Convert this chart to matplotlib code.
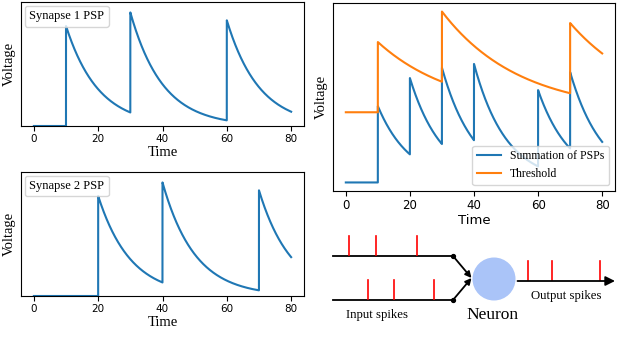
import numpy as np
import matplotlib
matplotlib.use("Agg")
import matplotlib.pyplot as plt
from matplotlib.patches import Circle

# ---------------- data ----------------
syn1_spikes = [10, 30, 60]          # input spike times, synapse 1
syn2_spikes = [20, 40, 70]          # input spike times, synapse 2
out_spikes = [10, 30, 70]           # output spike times (threshold jumps)
psp_amp = 1.0                        # PSP jump height
psp_tau = 10.0                       # PSP decay constant
thr_base = 0.92                      # resting threshold
thr_jump = 0.92                      # threshold increment per output spike
thr_tau = 24.0                       # threshold decay constant
t_end = 80
xticks = [0, 20, 40, 60, 80]
labels_syn = ["Synapse 1 PSP", "Synapse 2 PSP"]
legend_right = ["Summation of PSPs", "Threshold"]

t = np.linspace(0, t_end, 8001)

def psp_trace(spikes):
    v = np.zeros_like(t)
    for s in spikes:
        m = t >= s
        v[m] += psp_amp * np.exp(-(t[m] - s) / psp_tau)
    return v

def thr_trace(spikes):
    v = np.full_like(t, thr_base)
    for s in spikes:
        m = t >= s
        v[m] += thr_jump * np.exp(-(t[m] - s) / thr_tau)
    return v

v1 = psp_trace(syn1_spikes)
v2 = psp_trace(syn2_spikes)
vsum = v1 + v2
thr = thr_trace(out_spikes)

# ---------------- figure ----------------
W, H = 618, 358
fig = plt.figure(figsize=(W / 100, H / 100), dpi=100)
SERIF = ["Liberation Serif", "DejaVu Serif"]
SANS = ["DejaVu Sans"]
blue = "#1f77b4"
orange = "#ff7f0e"

def rect(l, r, top, bot):
    return [l / W, (H - bot) / H, (r - l) / W, (bot - top) / H]

def psp_panel(r, v, label):
    ax = fig.add_axes(r)
    ln, = ax.plot(t, v, color=blue, lw=1.5, label=label)
    ax.set_xlim(-4, 84)
    ax.set_ylim(0, 1.24)
    ax.set_xticks(xticks)
    ax.set_yticks([])
    ax.tick_params(axis="x", labelsize=7.5, length=3.5, pad=2.5)
    for lab in ax.get_xticklabels():
        lab.set_family(SANS)
    ax.set_xlabel("Time", family=SERIF, fontsize=10.5, labelpad=1)
    ax.set_ylabel("Voltage", family=SERIF, fontsize=10.5, labelpad=4)
    leg = ax.legend(loc="upper left", handlelength=0, handletextpad=0,
                    prop={"family": SERIF, "size": 9}, borderaxespad=0.3,
                    borderpad=0.35, fancybox=True)
    for h in leg.legend_handles:
        h.set_visible(False)
    return ax

psp_panel(rect(21, 304, 2, 126), v1, labels_syn[0])
psp_panel(rect(21, 304, 172, 296), v2, labels_syn[1])

# right panel
ax3 = fig.add_axes(rect(333, 615, 3, 191))
ax3.plot(t, vsum, color=blue, lw=1.5, label=legend_right[0])
ax3.plot(t, thr, color=orange, lw=1.5, label=legend_right[1])
ax3.set_xticks(xticks)
ax3.set_yticks([])
ax3.tick_params(axis="x", labelsize=8.5, length=3.5, pad=2.5)
ax3.set_xlabel("Time", family=SANS, fontsize=9.5, labelpad=1)
ax3.set_ylabel("Voltage", family=SERIF, fontsize=10.5, labelpad=4)
ax3.legend(loc="lower right", prop={"family": SERIF, "size": 8.5})

# ---------------- schematic ----------------
axd = fig.add_axes([0, 0, 1, 1])
axd.set_xlim(0, W)
axd.set_ylim(H, 0)
axd.axis("off")

# input lines
y_in1, y_in2 = 256, 300
x_start, x_end = 333, 453
cx, cy, rad = 494, 279, 21.5
for y in (y_in1, y_in2):
    axd.plot([x_start, x_end], [y, y], color="black", lw=1.3)
    axd.plot([x_end], [y], "o", color="black", ms=2.8)
    axd.annotate("", xy=(cx - rad - 1, cy - 1), xytext=(x_end, y),
                 arrowprops=dict(arrowstyle="-|>", color="black", lw=1.3,
                                 mutation_scale=9, shrinkA=0, shrinkB=0))
axd.add_patch(Circle((cx, cy), rad, color="#aac4f8", lw=0))

# output arrow
y_out = 281
axd.annotate("", xy=(615, y_out), xytext=(cx + rad + 2, y_out),
             arrowprops=dict(arrowstyle="-|>", color="black", lw=1.3,
                             mutation_scale=14, shrinkA=0, shrinkB=0))

# spikes
def draw_spikes(times, x0, k, ybase, h=20):
    for s in times:
        x = x0 + k * s
        axd.plot([x, x], [ybase - 1, ybase - h], color="red", lw=1.2)

draw_spikes(syn1_spikes, 335.5, 1.35, y_in1)
draw_spikes(syn2_spikes, 341.6, 1.32, y_in2)
draw_spikes(out_spikes, 516, 1.2, y_out)

axd.text(377, 315, "Input spikes", family=SERIF, fontsize=9.2, ha="center", va="center")
axd.text(493, 315, "Neuron", family=SERIF, fontsize=12.5, ha="center", va="center")
axd.text(566, 296, "Output spikes", family=SERIF, fontsize=9.2, ha="center", va="center")

fig.savefig("out.png", dpi=100)
